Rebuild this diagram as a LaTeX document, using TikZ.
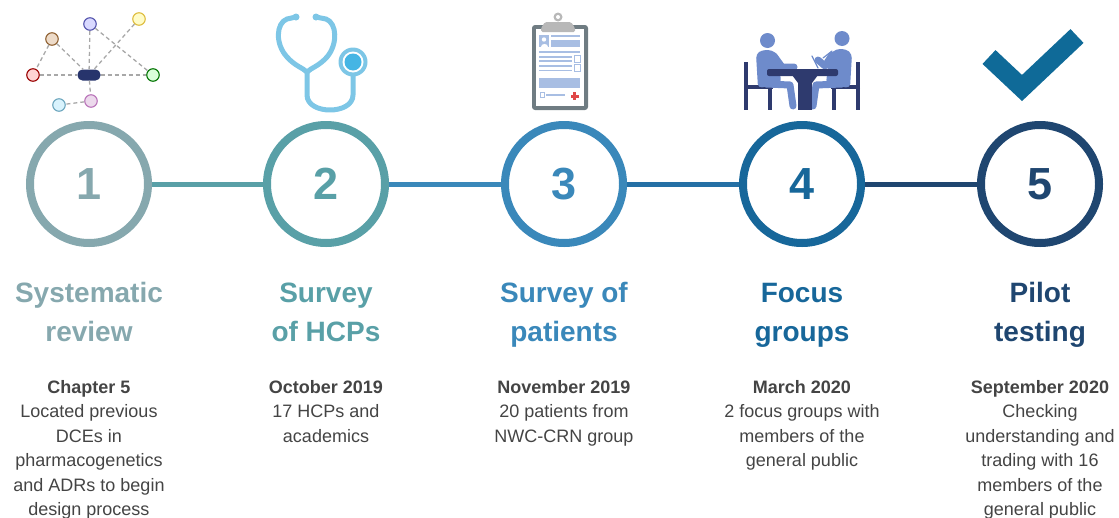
\documentclass[tikz,border=0pt]{standalone}
\usepackage{fontspec}
\setmainfont{Liberation Sans}
\definecolor{cA}{HTML}{86A8AE}
\definecolor{cB}{HTML}{59A0A7}
\definecolor{cC}{HTML}{3A88BA}
\definecolor{cD}{HTML}{17679A}
\definecolor{cE}{HTML}{1F4670}
\definecolor{linkCD}{HTML}{2470A5}
\definecolor{bodytxt}{HTML}{444444}
\definecolor{checkblue}{HTML}{0F6A98}
\definecolor{steth}{HTML}{7DC6E6}
\definecolor{stethcore}{HTML}{45B5E4}
\definecolor{navy}{HTML}{2E3A6E}
\definecolor{hubnavy}{HTML}{27346C}
\definecolor{person}{HTML}{6E8BCB}
\definecolor{boardgray}{HTML}{6F7C82}
\definecolor{clipgray}{HTML}{B8B8B8}
\definecolor{paperblue}{HTML}{A8BEE3}
\definecolor{crossred}{HTML}{E04848}
\definecolor{edgegray}{HTML}{A8A8A8}
\begin{document}
\begin{tikzpicture}[x=1pt,y=-1pt,
  ring/.style={circle,draw=#1,line width=8pt,minimum size=118pt,inner sep=0pt,
    text=#1,font=\fontsize{45}{45}\selectfont\bfseries},
  link/.style={draw=#1,line width=5pt},
  % multi-line nodes: 'base' is the baseline of the last line
  head/.style={anchor=base,align=center,text=#1,inner sep=0pt,
    font=\fontsize{28}{39}\selectfont\bfseries},
  body/.style={anchor=base,align=center,text=bodytxt,inner sep=0pt,
    font=\fontsize{18}{24.5}\selectfont},
  netdot/.style={circle,minimum size=12.5pt,inner sep=0pt,line width=1.1pt},
  netedge/.style={draw=edgegray,line width=1.3pt,dash pattern=on 4pt off 3pt},
  tube/.style={draw=steth,line width=5pt,line cap=round,line join=round},
  limb/.style={draw=person,line width=7pt,line cap=round,line join=round},
  chairbar/.style={draw=navy,line width=4.5pt,line cap=butt},
  paperfill/.style={fill=paperblue,draw=none}]
\useasboundingbox (0,0) rectangle (1119,517);

% ---- timeline circles and links
\node[ring=cA] (s1) at (89,184)  {1};
\node[ring=cB] (s2) at (326,184) {2};
\node[ring=cC] (s3) at (564,184) {3};
\node[ring=cD] (s4) at (802,184) {4};
\node[ring=cE] (s5) at (1040,184) {5};
\draw[link=cB] (s1) -- (s2);
\draw[link=cC] (s2) -- (s3);
\draw[link=linkCD] (s3) -- (s4);
\draw[link=cE] (s4) -- (s5);

% ---- headings (first line baseline 302, line pitch 39)
\node[head=cA] (h1) at (89,341)  {Systematic\\review};
\node[head=cB] (h2) at (326,341) {Survey\\of HCPs};
\node[head=cC] (h3) at (564,341) {Survey of\\patients};
\node[head=cD] (h4) at (802,341) {Focus\\groups};
\node[head=cE] (h5) at (1040,341) {Pilot\\testing};

% ---- descriptions (first line baseline 393, line pitch 24.5)
\node[body] (d1) at (89,515.5) {\textbf{Chapter 5}\\Located previous\\DCEs in\\pharmacogenetics\\and ADRs to begin\\design process};
\node[body] (d2) at (326,442) {\textbf{October 2019}\\17 HCPs and\\academics};
\node[body] (d3) at (564,442) {\textbf{November 2019}\\20 patients from\\NWC-CRN group};
\node[body] (d4) at (802,466.5) {\textbf{March 2020}\\2 focus groups with\\members of the\\general public};
\node[body] (d5) at (1040,515.5) {\textbf{September 2020}\\Checking\\understanding and\\trading with 16\\members of the\\general public};

% ---- icon 1: network
\node[fill=hubnavy,rounded corners=5pt,minimum width=23pt,minimum height=11pt,inner sep=0pt] (hub) at (89,75) {};
\node[netdot,fill=blue!15!white,draw=blue!35!gray] (nb) at (90,24) {};
\node[netdot,fill=yellow!22!white,draw=yellow!45!brown] (ny) at (139,19) {};
\node[netdot,fill=brown!28!white,draw=brown!75!black] (nw) at (52,39) {};
\node[netdot,fill=red!17!white,draw=red!60!black] (nr) at (33,75) {};
\node[netdot,fill=green!15!white,draw=green!45!black] (ng) at (153,75) {};
\node[netdot,fill=violet!15!white,draw=violet!55!white] (np) at (91,101) {};
\node[netdot,fill=cyan!15!white,draw=cyan!45!gray] (nc) at (59,105) {};
\draw[netedge] (nr) -- (hub);
\draw[netedge] (hub) -- (ng);
\draw[netedge] (nw) -- (nr);
\draw[netedge] (nw) -- (hub);
\draw[netedge] (nb) -- (hub);
\draw[netedge] (nb) -- (ng);
\draw[netedge] (ny) -- (hub);
\draw[netedge] (hub) -- (np);
\draw[netedge] (np) -- (nc);

% ---- icon 2: stethoscope
\draw[tube] (296,17) -- (287,19) .. controls (276,23) and (275,44) .. (287,57)
  .. controls (295,66) and (303,68) .. (307,72);
\draw[tube] (316,17) -- (326,19) .. controls (337,23) and (338,44) .. (327,57)
  .. controls (319,66) and (311,68) .. (307,72);
\fill[steth] (296,17) circle (3.5pt) (316,17) circle (3.5pt);
\draw[tube] (307,72) -- (307,95) .. controls (307,115) and (353,115) .. (353,95) -- (353,76);
\fill[steth] (353,62) circle (14.5pt);
\fill[white] (353,62) circle (10.5pt);
\fill[stethcore] (353,62) circle (8.5pt);

% ---- icon 3: clipboard
\fill[boardgray,rounded corners=3pt] (532,25) rectangle (588,110);
\fill[white] (536,29) rectangle (584,106);
\fill[clipgray] (558,17) circle (4.5pt);
\fill[white] (558,17) circle (2pt);
\fill[clipgray,rounded corners=1.5pt] (545,22) -- (571,22) -- (575,28) -- (575,32) -- (541,32) -- (541,28) -- cycle;
\fill[paperfill] (539,35) rectangle (549,47);
\fill[white] (544,39.5) circle (2.2pt);
\fill[white] (540.5,47) .. controls (540.5,42.5) and (547.5,42.5) .. (547.5,47) -- cycle;
\fill[paperfill] (551,35) rectangle (580,37);
\fill[paperfill] (551,40) rectangle (580,47);
\fill[paperfill] (539,51) rectangle (580,53);
\fill[paperfill] (539,56) rectangle (572,57.5);
\fill[paperfill] (539,60) rectangle (572,61.5);
\draw[paperblue,line width=0.9pt] (574,55) rectangle (580,62);
\fill[paperfill] (539,65) rectangle (572,66.5);
\fill[paperfill] (539,69.5) rectangle (572,71);
\draw[paperblue,line width=0.9pt] (574,64) rectangle (580,71);
\fill[paperfill] (539,78) rectangle (580,88);
\draw[paperblue,line width=0.9pt] (540,92) rectangle (544,97);
\fill[paperfill] (546,94) rectangle (565,95.5);
\fill[crossred] (570.5,95) rectangle (578.5,97.5);
\fill[crossred] (573.3,92.2) rectangle (575.8,100.3);

% ---- icon 4: meeting at a table
% chairs
\draw[chairbar] (746,62) -- (746,110);
\draw[chairbar] (744,87) -- (773,87);
\draw[chairbar] (770,87) -- (770,110);
\draw[chairbar] (858,62) -- (858,110);
\draw[chairbar] (860,87) -- (831,87);
\draw[chairbar] (834,87) -- (834,110);
% left person
\fill[person] (767.5,40.5) circle (7.5pt);
\fill[person,rounded corners=4pt] (756,54) -- (762,50) -- (772,50) -- (779,56) -- (781,84) -- (758,88) -- cycle;
\draw[limb] (774,56) -- (782,67) -- (794,67);
\draw[limb] (766,84) -- (790,85) -- (793,106);
% right person
\fill[person] (842,38.5) circle (7.5pt);
\fill[person,rounded corners=4pt] (852,54) -- (846,49) -- (836,49) -- (829,55) -- (826,84) -- (850,88) -- cycle;
\draw[limb] (832,55) -- (825,66) -- (818,60);
\draw[person,line width=1.2pt,line cap=round] (812,56) -- (818,68);
\draw[person,line width=1.2pt,line cap=round] (823,58) -- (832,51);
\draw[limb] (842,84) -- (816,85) -- (813,106);
% table
\fill[navy,rounded corners=2pt] (767,69) rectangle (838,76);
\fill[navy] (792,75) -- (818,75) -- (812,83) -- (798,83) -- cycle;
\fill[navy] (798,80) rectangle (812,110);

% ---- icon 5: check mark
\draw[checkblue,line width=19pt,line join=miter] (989,57) -- (1022,88) -- (1077,36);

\end{tikzpicture}
\end{document}
